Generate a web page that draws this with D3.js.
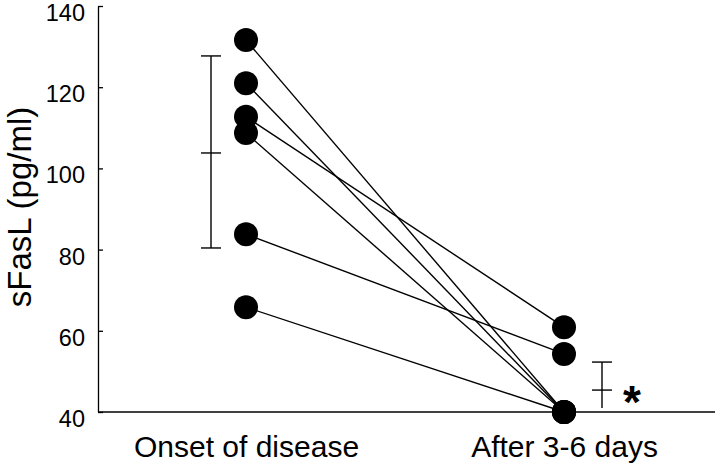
<!DOCTYPE html>
<html><head><meta charset="utf-8">
<script src="https://cdn.jsdelivr.net/npm/d3@7"></script>
<style>html,body{margin:0;padding:0;background:#fff;}svg{display:block;font-family:"Liberation Sans",Arial,sans-serif;}</style>
</head><body>
<script>
const categories = ["Onset of disease", "After 3-6 days"];
const onsetValues = [131.6, 121, 112.7, 108.7, 83.8, 65.8];
const afterValues = [40, 40, 60.9, 40, 54.3, 40];
const errMean = [103.8, 45.4];
const errHigh = [127.7, 52.3];
const errLow = [80.4, 40];
const yTicks = [40, 60, 80, 100, 120, 140];
const yLabel = "sFasL (pg/ml)";

const W = 720, H = 466;
const svg = d3.select("body").append("svg").attr("width", W).attr("height", H);
const y = d3.scaleLinear().domain([40, 140]).range([412, 6]);
const x = d3.scalePoint().domain(categories).range([246, 564]);
const errX = [211, 602];

// y axis
const yAxis = d3.axisLeft(y).tickValues(yTicks).tickSize(-5).tickPadding(13).tickSizeOuter(0);
const gy = svg.append("g").attr("transform", "translate(98,0)").call(yAxis);
gy.select(".domain").attr("stroke", "#000").attr("stroke-width", 1.3);
gy.selectAll(".tick line").attr("stroke", "#000").attr("stroke-width", 1.3);
gy.selectAll(".tick text").attr("font-size", 23.5).attr("fill", "#000").attr("dy", "0.62em");

// x axis
const xAxis = d3.axisBottom(x).tickSize(0).tickPadding(0);
const gx = svg.append("g").attr("transform", "translate(0,412)").call(xAxis);
gx.select(".domain").remove();
gx.selectAll(".tick text").attr("font-size", 30).attr("fill", "#000").attr("y", 45).attr("dy", 0);
svg.append("line").attr("x1", 98).attr("x2", 715).attr("y1", 412).attr("y2", 412)
  .attr("stroke", "#000").attr("stroke-width", 1.3);

// y label
svg.append("text").attr("transform", `translate(31,${y(90.5)}) rotate(-90)`)
  .attr("text-anchor", "middle").attr("font-size", 33).attr("fill", "#000").text(yLabel);

// connecting lines
const pairs = onsetValues.map((v, i) => [v, afterValues[i]]);
svg.append("g").selectAll("line").data(pairs).join("line")
  .attr("x1", x(categories[0])).attr("y1", d => y(d[0]))
  .attr("x2", x(categories[1])).attr("y2", d => y(d[1]))
  .attr("stroke", "#000").attr("stroke-width", 1.4);

// points
const pts = [];
onsetValues.forEach(v => pts.push([categories[0], v]));
afterValues.forEach(v => pts.push([categories[1], v]));
svg.append("g").selectAll("circle").data(pts).join("circle")
  .attr("cx", d => x(d[0])).attr("cy", d => y(d[1])).attr("r", 12).attr("fill", "#000");

// error bars
const eb = svg.append("g").attr("stroke", "#000").attr("stroke-width", 1.4);
categories.forEach((c, i) => {
  const cx = errX[i];
  eb.append("line").attr("x1", cx).attr("x2", cx).attr("y1", y(errHigh[i])).attr("y2", y(errLow[i]) - (i === 1 ? 4 : 0));
  eb.append("line").attr("x1", cx - 10).attr("x2", cx + 10).attr("y1", y(errHigh[i])).attr("y2", y(errHigh[i]));
  eb.append("line").attr("x1", cx - 10).attr("x2", cx + 10).attr("y1", y(errMean[i])).attr("y2", y(errMean[i]));
  if (i === 0) eb.append("line").attr("x1", cx - 10).attr("x2", cx + 10).attr("y1", y(errLow[i])).attr("y2", y(errLow[i]));
});

// significance star
svg.append("text").attr("x", 632).attr("y", 418).attr("text-anchor", "middle")
  .attr("font-size", 46).attr("font-weight", "bold").attr("fill", "#000").text("*");
</script>
</body></html>
